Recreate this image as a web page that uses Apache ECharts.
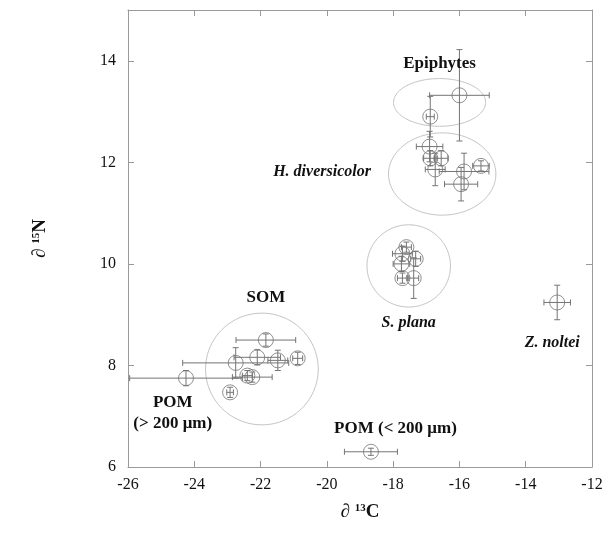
<!DOCTYPE html>
<html>
<head>
<meta charset="utf-8">
<script src="https://cdn.jsdelivr.net/npm/echarts@6/dist/echarts.min.js"></script>
<style>
html,body{margin:0;padding:0;background:#fff;}
#chart{width:606px;height:547px;}
</style>
</head>
<body>
<div id="chart"></div>
<script>
// ---- data (δ13C, δ15N, ±x error, ±y error) ----
const epiphytes = [
  [-16.0, 13.32, 0.9, 0.9],
  [-16.88, 12.9, 0.12, 0.4]
];
const hDiversicolor = [
  [-16.9, 12.31, 0.4, 0.3],
  [-16.88, 12.08, 0.2, 0.15],
  [-16.55, 12.08, 0.2, 0.15],
  [-16.73, 11.86, 0.3, 0.32],
  [-15.86, 11.82, 0.75, 0.36],
  [-15.95, 11.57, 0.5, 0.33],
  [-15.35, 11.93, 0.25, 0.1]
];
const sPlana = [
  [-17.6, 10.33, 0.15, 0.1],
  [-17.72, 10.2, 0.3, 0.15],
  [-17.75, 10.0, 0.25, 0.15],
  [-17.32, 10.1, 0.15, 0.15],
  [-17.72, 9.72, 0.15, 0.1],
  [-17.38, 9.72, 0.15, 0.4]
];
const som = [
  [-21.84, 8.5, 0.9, 0.12],
  [-22.1, 8.16, 0.7, 0.15],
  [-22.75, 8.05, 1.6, 0.3],
  [-21.48, 8.1, 0.3, 0.2],
  [-20.88, 8.14, 0.15, 0.12],
  [-22.4, 7.8, 0.15, 0.1],
  [-22.25, 7.77, 0.6, 0.1],
  [-22.92, 7.47, 0.1, 0.1]
];
const pomLarge = [[-24.25, 7.75, 1.7, 0.15]];
const pomSmall = [[-18.67, 6.3, 0.8, 0.07]];
const zNoltei = [[-13.05, 9.24, 0.4, 0.34]];

// group envelopes: centre x, centre y, half-width, half-height (data units)
const groupEllipses = [
  [-16.6, 13.18, 1.39, 0.47],
  [-16.52, 11.77, 1.62, 0.81],
  [-17.53, 9.96, 1.26, 0.81],
  [-21.96, 7.93, 1.7, 1.1]
];

// group names and their anchor (data units)
const groupNames = ['Epiphytes', 'H. diversicolor', 'S. plana', 'SOM', 'Z. noltei', 'POM (< 200 μm)', 'POM', '(> 200 μm)'];
const groupNameAnchors = [
  [-16.6, 13.94], [-18.67, 11.82], [-17.53, 8.84], [-21.84, 9.33],
  [-13.2, 8.45], [-17.93, 6.76], [-24.65, 7.26], [-24.65, 6.86]
];
const groupNameItalic = [false, true, true, false, true, false, false, false];
const groupNameAlign = ['center', 'right', 'center', 'center', 'center', 'center', 'center', 'center'];

const xTickLabels = [-26, -24, -22, -20, -18, -16, -14, -12];
const yTickLabels = [6, 8, 10, 12, 14];

// ---- chart ----
const allPoints = [].concat(epiphytes, hDiversicolor, sPlana, som, pomLarge, pomSmall, zNoltei);
const serif = '"Liberation Serif", "DejaVu Serif", serif';
const markColor = '#747474';
const ellipseColor = '#c4c4c4';

const chart = echarts.init(document.getElementById('chart'), null, {renderer: 'canvas'});

function errRender(params, api) {
  const x = api.value(0), y = api.value(1), xe = api.value(2), ye = api.value(3);
  const pl = api.coord([x - xe, y]), pr = api.coord([x + xe, y]);
  const pt = api.coord([x, y + ye]), pb = api.coord([x, y - ye]);
  const cap = 3;
  const st = {stroke: markColor, lineWidth: 1};
  return {type: 'group', children: [
    {type: 'line', shape: {x1: pl[0], y1: pl[1], x2: pr[0], y2: pr[1]}, style: st},
    {type: 'line', shape: {x1: pl[0], y1: pl[1] - cap, x2: pl[0], y2: pl[1] + cap}, style: st},
    {type: 'line', shape: {x1: pr[0], y1: pr[1] - cap, x2: pr[0], y2: pr[1] + cap}, style: st},
    {type: 'line', shape: {x1: pt[0], y1: pt[1], x2: pb[0], y2: pb[1]}, style: st},
    {type: 'line', shape: {x1: pt[0] - cap, y1: pt[1], x2: pt[0] + cap, y2: pt[1]}, style: st},
    {type: 'line', shape: {x1: pb[0] - cap, y1: pb[1], x2: pb[0] + cap, y2: pb[1]}, style: st}
  ]};
}

function ellipseRender(params, api) {
  const c = api.coord([api.value(0), api.value(1)]);
  const rx = api.size([api.value(2), 0])[0];
  const ry = api.size([0, api.value(3)])[1];
  const pts = [];
  for (let i = 0; i < 120; i++) {
    const a = i / 120 * Math.PI * 2;
    pts.push([c[0] + rx * Math.cos(a), c[1] + ry * Math.sin(a)]);
  }
  return {type: 'polygon', shape: {points: pts}, style: {fill: 'none', stroke: ellipseColor, lineWidth: 1}};
}

function textRender(params, api) {
  const i = params.dataIndex;
  const p = api.coord([api.value(0), api.value(1)]);
  return {type: 'text', x: p[0], y: p[1], style: {
    text: groupNames[i], fill: '#111',
    font: (groupNameItalic[i] ? 'italic bold 16px ' : 'bold 17px ') + serif,
    align: groupNameAlign[i], verticalAlign: 'middle'
  }};
}

const labelFmtX = v => xTickLabels.indexOf(v) >= 0 ? String(v) : '';
const labelFmtY = v => yTickLabels.indexOf(v) >= 0 ? String(v) : '';

const axisLineStyle = {lineStyle: {color: '#9a9a9a', width: 1}};
const tickStyle = {inside: true, length: 6, lineStyle: {color: '#9a9a9a'}};

chart.setOption({
  backgroundColor: '#fff',
  animation: false,
  grid: {left: 128, right: 14, top: 10, bottom: 80},
  xAxis: [{
    type: 'value', min: -26, max: -12, interval: 2, position: 'bottom',
    axisLine: axisLineStyle, axisTick: tickStyle, splitLine: {show: false},
    axisLabel: {formatter: labelFmtX, color: '#111', fontSize: 16, fontFamily: serif, margin: 10},
    name: '{d|∂ }{s|13}{d|C}', nameLocation: 'middle', nameGap: 36,
    nameTextStyle: {rich: {
      d: {fontSize: 19, fontWeight: 'bold', fontFamily: serif, color: '#111'},
      s: {fontSize: 11, fontWeight: 'bold', fontFamily: serif, color: '#111', verticalAlign: 'top'}
    }}
  }, {
    type: 'value', min: -26, max: -12, interval: 2, position: 'top',
    axisLine: axisLineStyle, axisTick: tickStyle, axisLabel: {show: false}, splitLine: {show: false}
  }],
  yAxis: [{
    type: 'value', min: 6, max: 15, interval: 2, position: 'left',
    axisLine: axisLineStyle, axisTick: tickStyle, splitLine: {show: false},
    axisLabel: {formatter: labelFmtY, color: '#111', fontSize: 16, fontFamily: serif, margin: 12},
    name: '{d|∂ }{s|15}{d|N}', nameLocation: 'middle', nameGap: 78, nameRotate: 90,
    nameTextStyle: {rich: {
      d: {fontSize: 19, fontWeight: 'bold', fontFamily: serif, color: '#111'},
      s: {fontSize: 11, fontWeight: 'bold', fontFamily: serif, color: '#111', verticalAlign: 'top'}
    }}
  }, {
    type: 'value', min: 6, max: 15, interval: 2, position: 'right',
    axisLine: axisLineStyle, axisTick: tickStyle, axisLabel: {show: false}, splitLine: {show: false}
  }],
  series: [
    {type: 'custom', renderItem: ellipseRender, data: groupEllipses, silent: true, clip: false, z: 1},
    {type: 'custom', renderItem: errRender, data: allPoints, silent: true, z: 2},
    {type: 'scatter', data: allPoints.map(p => [p[0], p[1]]), symbol: 'circle', symbolSize: 15,
     itemStyle: {color: 'rgba(255,255,255,0)', borderColor: markColor, borderWidth: 1}, silent: true, z: 3},
    {type: 'custom', renderItem: textRender, data: groupNameAnchors, silent: true, clip: false, z: 4}
  ]
});
</script>
</body>
</html>
